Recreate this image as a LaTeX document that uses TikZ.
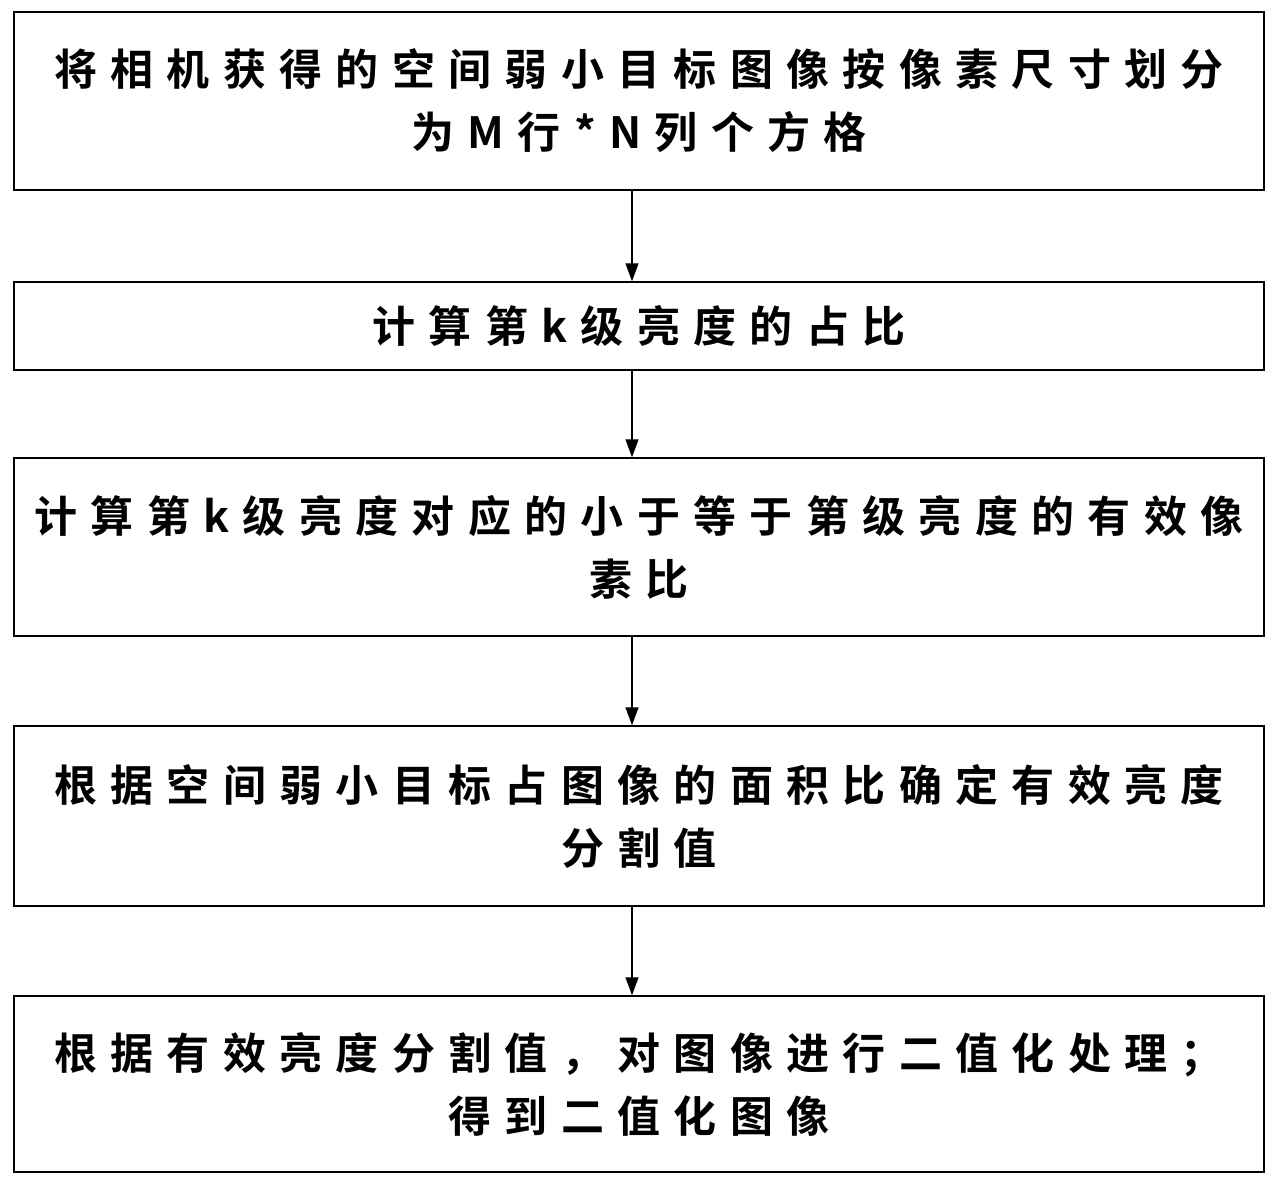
\documentclass[tikz,border=0pt]{standalone}
\usepackage{fontspec}
\setmainfont{Noto Sans CJK SC}[BoldFont={* Bold},LetterSpace=31]
\usetikzlibrary{arrows.meta}
\begin{document}
\begin{tikzpicture}[x=1pt,y=-1pt,
  box/.style={draw,line width=1.5pt,minimum width=1250pt,align=center,font=\bfseries\fontsize{43}{63}\selectfont,inner sep=0pt},
  arr/.style={-{Triangle[length=18pt,width=13pt]},line width=1.3pt}]
\useasboundingbox (0,0) rectangle (1279,1188);
\node[box,minimum height=178pt] (b1) at (639,101) {将相机获得的空间弱小目标图像按像素尺寸划分\\为M行*N列个方格};
\node[box,minimum height=88pt] (b2) at (639,326) {计算第k级亮度的占比};
\node[box,minimum height=178pt] (b3) at (639,547) {计算第k级亮度对应的小于等于第级亮度的有效像\\素比};
\node[box,minimum height=180pt] (b4) at (639,816) {根据空间弱小目标占图像的面积比确定有效亮度\\分割值};
\node[box,minimum height=176pt] (b5) at (639,1084) {根据有效亮度分割值，对图像进行二值化处理；\\得到二值化图像};
\foreach \a/\b in {b1/b2,b2/b3,b3/b4,b4/b5}
  \draw[arr] ([xshift=-7pt]\a.south) -- ([xshift=-7pt]\b.north);
\end{tikzpicture}
\end{document}
